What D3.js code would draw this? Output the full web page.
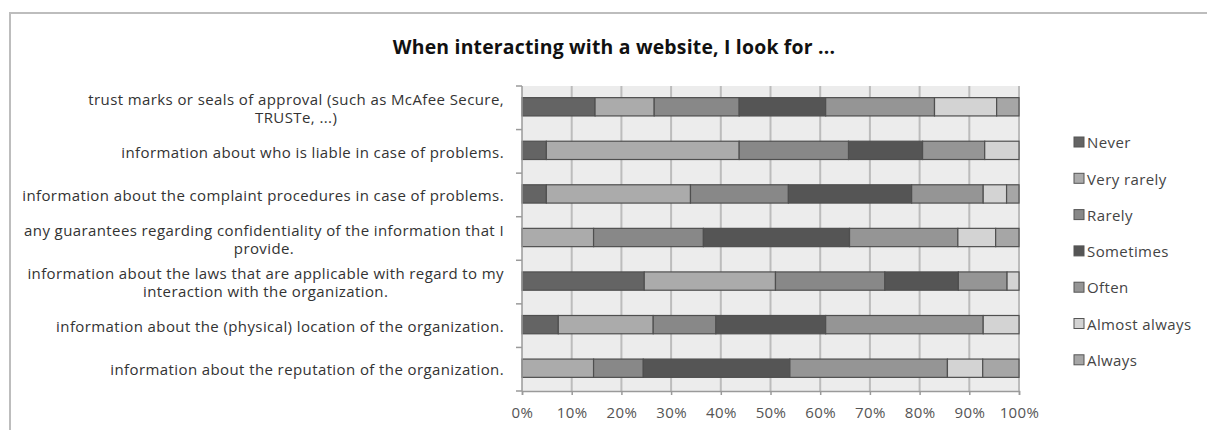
<!DOCTYPE html>
<html>
<head>
<meta charset="utf-8">
<script src="https://cdn.jsdelivr.net/npm/d3@7"></script>
<style>
  html, body { margin: 0; padding: 0; background: #fff; }
  svg { display: block; }
  text { font-family: "Open Sans", Lato, sans-serif; }
</style>
</head>
<body>
<svg id="chart" width="1207" height="430"></svg>
<script>
// Survey items, top to bottom ("\n" marks a line break in the label)
const categories = [
  "trust marks or seals of approval (such as McAfee Secure,\nTRUSTe, ...)",
  "information about who is liable in case of problems.",
  "information about the complaint procedures in case of problems.",
  "any guarantees regarding confidentiality of the information that I\nprovide.",
  "information about the laws that are applicable with regard to my\ninteraction with the organization.",
  "information about the (physical) location of the organization.",
  "information about the reputation of the organization."
];

// Answer shares per item (percent), same order as categories
const never        = [14.7,  4.9,  4.9,  0.0, 24.6,  7.3,  0.0];
const veryRarely   = [11.9, 38.8, 29.0, 14.4, 26.4, 19.1, 14.4];
const rarely       = [17.1, 22.0, 19.7, 22.1, 22.0, 12.6, 10.0];
const sometimes    = [17.4, 14.9, 24.8, 29.4, 14.8, 22.1, 29.5];
const often        = [21.9, 12.5, 14.4, 21.8,  9.8, 31.7, 31.7];
const almostAlways = [12.5,  6.9,  4.7,  7.6,  2.4,  7.2,  7.1];
const always       = [ 4.5,  0.0,  2.5,  4.7,  0.0,  0.0,  7.3];

const seriesNames = ["Never", "Very rarely", "Rarely", "Sometimes", "Often", "Almost always", "Always"];
const seriesValues = [never, veryRarely, rarely, sometimes, often, almostAlways, always];
const seriesColors = ["#646464", "#ababab", "#888888", "#555555", "#959595", "#d3d3d3", "#a6a6a6"];

const xTicks = [0, 10, 20, 30, 40, 50, 60, 70, 80, 90, 100];
const title = "When interacting with a website, I look for ...";

const svg = d3.select("#chart");

// outer chart frame
svg.append("rect")
  .attr("x", 10).attr("y", 13)
  .attr("width", 1205).attr("height", 430)
  .attr("fill", "#fff")
  .attr("stroke", "#bdbdbd")
  .attr("stroke-width", 2);

const plot = { left: 522, right: 1019, top: 86, bottom: 391 };

const x = d3.scaleLinear().domain([0, 100]).range([plot.left, plot.right]);
const y = d3.scaleBand().domain(categories).range([plot.top, plot.bottom]);
const barH = y.bandwidth() * 0.42;

// table rows for the stack
const rows = categories.map((c, i) => {
  const r = { category: c };
  seriesNames.forEach((s, k) => { r[s] = seriesValues[k][i]; });
  return r;
});
const stacked = d3.stack().keys(seriesNames)(rows);
const color = d3.scaleOrdinal().domain(seriesNames).range(seriesColors);

// plot background
svg.append("rect")
  .attr("x", plot.left).attr("y", plot.top)
  .attr("width", plot.right - plot.left).attr("height", plot.bottom - plot.top)
  .attr("fill", "#ececec");

// vertical gridlines
svg.append("g")
  .selectAll("line")
  .data(xTicks.slice(1))
  .join("line")
  .attr("x1", d => x(d)).attr("x2", d => x(d))
  .attr("y1", plot.top).attr("y2", plot.bottom)
  .attr("stroke", "#bcbcbc")
  .attr("stroke-width", 2);

// stacked bars
svg.append("g")
  .selectAll("g")
  .data(stacked)
  .join("g")
  .attr("fill", d => color(d.key))
  .selectAll("rect")
  .data(d => d.filter(s => s[1] - s[0] > 0))
  .join("rect")
  .attr("x", d => x(d[0]))
  .attr("width", d => x(d[1]) - x(d[0]))
  .attr("y", d => y(d.data.category) + (y.bandwidth() - barH) / 2 - 1)
  .attr("height", barH)
  .attr("stroke", "#4f4f4f")
  .attr("stroke-width", 1.2);

// x axis
const xAxis = d3.axisBottom(x)
  .tickValues(xTicks)
  .tickFormat(d => d + "%")
  .tickSize(4)
  .tickPadding(12);
const gx = svg.append("g")
  .attr("transform", `translate(0,${plot.bottom})`)
  .call(xAxis);
gx.select(".domain").attr("stroke", "#9a9a9a").attr("stroke-width", 1.5);
gx.selectAll(".tick line").attr("stroke", "#9a9a9a").attr("stroke-width", 1.5);
gx.selectAll(".tick text")
  .attr("fill", "#555")
  .style("font-family", "'Open Sans', sans-serif")
  .style("font-size", "15px")
  .style("letter-spacing", "0.4px");

// y axis: line, ticks at band boundaries, wrapped labels
svg.append("line")
  .attr("x1", plot.left).attr("x2", plot.left)
  .attr("y1", plot.top).attr("y2", plot.bottom)
  .attr("stroke", "#9a9a9a").attr("stroke-width", 1.5);

const boundaries = categories.map(c => y(c)).concat([plot.bottom]);
svg.append("g")
  .selectAll("line")
  .data(boundaries)
  .join("line")
  .attr("x1", plot.left - 6).attr("x2", plot.left)
  .attr("y1", d => d).attr("y2", d => d)
  .attr("stroke", "#9a9a9a").attr("stroke-width", 1.5);

const labels = svg.append("g")
  .selectAll("text")
  .data(categories)
  .join("text")
  .attr("text-anchor", "middle")
  .attr("fill", "#333")
  .style("font-size", "15px")
  .style("letter-spacing", "0.4px")
  .each(function (d) {
    const lines = d.split("\n");
    const t = d3.select(this);
    const cy = y(d) + y.bandwidth() / 2 + 1;
    const lh = 18;
    lines.forEach((ln, i) => {
      t.append("tspan")
        .attr("y", cy + (i - (lines.length - 1) / 2) * lh)
        .attr("dy", "0.35em")
        .text(ln);
    });
  });

// right-align the widest line and center the others on it
labels.each(function () {
  const t = d3.select(this);
  const spans = t.selectAll("tspan").nodes();
  const widths = spans.map(s => s.getComputedTextLength());
  const wMax = d3.max(widths);
  const centerX = 504 - wMax / 2;
  spans.forEach(s => d3.select(s).attr("x", centerX));
});

// title
svg.append("text")
  .attr("x", 614).attr("y", 47)
  .attr("text-anchor", "middle")
  .attr("dy", "0.35em")
  .attr("fill", "#111")
  .style("font-size", "19.4px")
  .style("font-weight", "bold")
  .style("letter-spacing", "0.2px")
  .text(title);

// legend
const legend = svg.append("g")
  .selectAll("g")
  .data(seriesNames)
  .join("g")
  .attr("transform", (d, i) => `translate(1074,${143 + i * 36.3})`);
legend.append("rect")
  .attr("x", 0).attr("y", -6)
  .attr("width", 10).attr("height", 10)
  .attr("fill", d => color(d))
  .attr("stroke", "#555")
  .attr("stroke-width", 1);
legend.append("text")
  .attr("x", 13).attr("y", 0)
  .attr("dy", "0.35em")
  .attr("fill", "#444")
  .style("font-size", "15px")
  .style("letter-spacing", "0.4px")
  .text(d => d);
</script>
</body>
</html>
